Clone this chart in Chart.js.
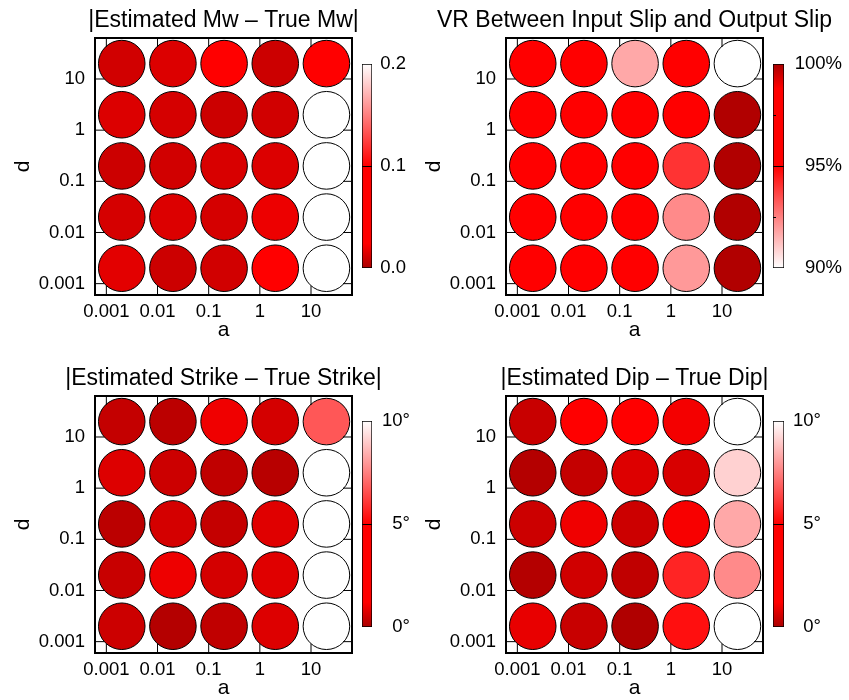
<!DOCTYPE html>
<html>
<head>
<meta charset="utf-8">
<title>Inversion error maps</title>
<script src="https://cdn.jsdelivr.net/npm/chart.js@4.4.1/dist/chart.umd.min.js"></script>
<style>
  html, body { margin: 0; padding: 0; background: #fff; overflow: hidden; }
  body { position: relative; width: 849px; height: 700px; }
  canvas { position: absolute; }
</style>
</head>
<body>
<canvas id="mw" width="447" height="345" style="left:0px;top:0px"></canvas>
<canvas id="vr" width="447" height="345" style="left:411px;top:0px"></canvas>
<canvas id="strike" width="447" height="345" style="left:0px;top:358px"></canvas>
<canvas id="dip" width="447" height="345" style="left:411px;top:358px"></canvas>
<canvas id="mwBar" width="54" height="235" style="left:352px;top:50px"></canvas>
<canvas id="vrBar" width="78" height="235" style="left:764px;top:50px"></canvas>
<canvas id="strikeBar" width="58" height="235" style="left:352px;top:408px"></canvas>
<canvas id="dipBar" width="57" height="235" style="left:764px;top:408px"></canvas>

<script>
// grid positions (cell centres) for the smoothing parameters a and d
const aValues = [0.002, 0.02, 0.2, 2, 20];
const dValues = [0.002, 0.02, 0.2, 2, 20];
const axisTicks = [0.001, 0.01, 0.1, 1, 10];

// rows go with dValues (smallest d first), columns with aValues
const mwError = [
  [0.016, 0.0096, 0.011, 0.04, 0.24],
  [0.012, 0.014, 0.012, 0.019, 0.25],
  [0.0096, 0.011, 0.013, 0.014, 0.23],
  [0.014, 0.012, 0.0096, 0.011, 0.26],
  [0.011, 0.014, 0.035, 0.0096, 0.025]
];
const slipVR = [
  [97, 97, 97, 92, 99.9],
  [97, 97, 97, 92.3, 99.9],
  [97, 97, 97, 94, 99.9],
  [97.2, 97, 97, 97, 99.9],
  [97, 97, 91.7, 97, 89.5]
];
const strikeError = [
  [0.48, 0.14, 0.31, 0.72, 10.5],
  [0.42, 0.96, 0.59, 0.76, 10.8],
  [0.24, 0.59, 0.37, 0.76, 11.2],
  [0.72, 0.48, 0.31, 0.20, 10.6],
  [0.37, 0.24, 0.99, 0.59, 6.7]
];
const dipError = [
  [0.88, 0.42, 0.08, 5.3, 10.4],
  [0.14, 0.54, 0.31, 5.7, 7.7],
  [0.48, 0.99, 0.48, 1.10, 8.3],
  [0.14, 0.37, 0.72, 0.65, 9.1],
  [0.42, 1.5, 1.5, 1.05, 10.9]
];

const mwBarTicks = [0, 0.1, 0.2];
const vrBarTicks = [90, 95, 100];
const vrBarMinor = [92.5, 97.5];
const degBarTicks = [0, 5, 10];

// dark red -> red -> white
const cmapKnots = [0, 0.12, 0.5, 1];
const cmapColors = [[170, 0, 0], [255, 0, 0], [255, 0, 0], [255, 255, 255]];

function cmap(t) {
  t = Math.min(1, Math.max(0, t));
  for (let i = 1; i < cmapKnots.length; i++) {
    if (t <= cmapKnots[i]) {
      const f = (t - cmapKnots[i - 1]) / (cmapKnots[i] - cmapKnots[i - 1]);
      const a = cmapColors[i - 1], b = cmapColors[i];
      const c = a.map((v, k) => Math.round(v + (b[k] - v) * f));
      return `rgb(${c[0]},${c[1]},${c[2]})`;
    }
  }
  return 'rgb(255,255,255)';
}

function colorFor(v, min, max, reversed) {
  const t = (v - min) / (max - min);
  return cmap(reversed ? 1 - t : t);
}

Chart.defaults.font.family = "'Liberation Sans', Arial, Helvetica, sans-serif";
Chart.defaults.color = '#000';
Chart.defaults.animation = false;
Chart.defaults.events = [];

// thick box plus inward ticks on all four sides
const framePlugin = {
  id: 'frame',
  afterDraw(chart) {
    const { ctx, chartArea: a, scales: { x, y } } = chart;
    const L = 9;
    ctx.save();
    ctx.strokeStyle = '#000';
    ctx.lineWidth = 1;
    ctx.beginPath();
    x.ticks.forEach(t => {
      const px = x.getPixelForValue(t.value);
      ctx.moveTo(px, a.bottom); ctx.lineTo(px, a.bottom - L);
      ctx.moveTo(px, a.top); ctx.lineTo(px, a.top + L);
    });
    y.ticks.forEach(t => {
      const py = y.getPixelForValue(t.value);
      ctx.moveTo(a.left, py); ctx.lineTo(a.left + L, py);
      ctx.moveTo(a.right, py); ctx.lineTo(a.right - L, py);
    });
    ctx.stroke();
    ctx.lineWidth = 2;
    ctx.strokeRect(a.left, a.top, a.right - a.left, a.bottom - a.top);
    ctx.restore();
  }
};

// tick marks drawn over the colour bar
const barTicksPlugin = {
  id: 'barTicks',
  afterDatasetsDraw(chart, args, opts) {
    const { ctx, chartArea: a, scales: { y } } = chart;
    ctx.save();
    ctx.strokeStyle = '#000';
    ctx.lineWidth = 1;
    ctx.beginPath();
    (opts.major || []).forEach(v => {
      const py = Math.round(y.getPixelForValue(v)) + 0.5;
      ctx.moveTo(a.left, py); ctx.lineTo(a.right, py);
    });
    (opts.minor || []).forEach(v => {
      const py = Math.round(y.getPixelForValue(v)) + 0.5;
      ctx.moveTo(a.left, py); ctx.lineTo(a.left + 3, py);
    });
    ctx.stroke();
    ctx.restore();
  }
};

const logMin = 2 * Math.pow(10, -3.5);
const logMax = 2 * Math.pow(10, 1.5);

function logAxis(title, isX) {
  return {
    type: 'logarithmic',
    min: logMin,
    max: logMax,
    afterBuildTicks: s => { s.ticks = axisTicks.map(v => ({ value: v })); },
    afterFit: s => { if (isX) s.height = 50; else s.width = 95; },
    ticks: { autoSkip: false, maxRotation: 0, padding: isX ? 6 : 10, font: { size: 18.5 }, callback: v => String(v) },
    grid: { display: false, drawTicks: false },
    border: { display: false },
    title: {
      display: true, text: title, font: { size: 21 },
      padding: isX ? { top: 0, bottom: 2 } : { top: 11, bottom: 0 }
    }
  };
}

function cellRadius(chart) {
  const x = chart.scales.x;
  return Math.abs(x.getPixelForValue(aValues[1]) - x.getPixelForValue(aValues[0])) * 0.455;
}

function makePanel(id, title, grid, min, max, reversed) {
  const points = [];
  const colors = [];
  dValues.forEach((d, i) => {
    aValues.forEach((a, j) => {
      points.push({ x: a, y: d });
      colors.push(colorFor(grid[i][j], min, max, reversed));
    });
  });
  new Chart(document.getElementById(id), {
    type: 'scatter',
    data: {
      datasets: [{
        data: points,
        backgroundColor: colors,
        borderColor: '#000',
        borderWidth: 1,
        pointRadius: ctx => cellRadius(ctx.chart)
      }]
    },
    options: {
      responsive: false,
      layout: { padding: 0 },
      plugins: {
        legend: { display: false },
        tooltip: { enabled: false },
        title: {
          display: true, text: title, color: '#000',
          font: { size: 23, weight: 'normal' },
          padding: { top: 7.2, bottom: 3.2 }
        }
      },
      scales: {
        x: logAxis('a', true),
        y: logAxis('d', false),
        // empty axis on the right balances the left one so the title centres over the box
        yPad: {
          position: 'right', display: true,
          ticks: { display: false }, grid: { display: false, drawTicks: false }, border: { display: false },
          afterFit: s => { s.width = 95; }
        }
      }
    },
    plugins: [framePlugin]
  });
}

function makeColorbar(id, min, max, reversed, ticks, fmt, opts) {
  new Chart(document.getElementById(id), {
    type: 'bar',
    data: {
      labels: [''],
      datasets: [{
        data: [[min, max]],
        backgroundColor: ctx => {
          const area = ctx.chart.chartArea;
          if (!area) return '#f00';
          const g = ctx.chart.ctx.createLinearGradient(0, area.bottom, 0, area.top);
          cmapKnots.forEach(p => g.addColorStop(reversed ? 1 - p : p, cmap(p)));
          return g;
        },
        borderColor: '#000',
        borderWidth: 1,
        borderSkipped: false,
        barPercentage: 1,
        categoryPercentage: 1
      }]
    },
    options: {
      responsive: false,
      layout: { padding: { left: opts.left, right: 0, top: opts.top, bottom: opts.bottom } },
      plugins: {
        legend: { display: false },
        tooltip: { enabled: false },
        barTicks: { major: opts.major, minor: opts.minor }
      },
      scales: {
        x: { display: false },
        y: {
          position: 'right', min, max,
          afterBuildTicks: s => { s.ticks = ticks.map(v => ({ value: v })); },
          afterFit: s => { s.width = opts.axisWidth; },
          ticks: { crossAlign: 'far', padding: 0, font: { size: 18.5 }, callback: fmt },
          grid: { display: false, drawTicks: false },
          border: { display: false }
        }
      }
    },
    plugins: [barTicksPlugin]
  });
}

makePanel('mw', '|Estimated Mw \u2013 True Mw|', mwError, 0, 0.2, false);
makePanel('vr', 'VR Between Input Slip and Output Slip', slipVR, 90, 100, true);
makePanel('strike', '|Estimated Strike \u2013 True Strike|', strikeError, 0, 10, false);
makePanel('dip', '|Estimated Dip \u2013 True Dip|', dipError, 0, 10, false);

// labels are right-aligned to the canvas edge
makeColorbar('mwBar', 0, 0.2, false, mwBarTicks, v => v.toFixed(1),
  { left: 10, top: 14, bottom: 17, axisWidth: 34, major: [0.1], minor: [] });
makeColorbar('vrBar', 90, 100, true, vrBarTicks, v => v + '%',
  { left: 9, top: 14, bottom: 17, axisWidth: 58, major: [95], minor: vrBarMinor });
makeColorbar('strikeBar', 0, 10, false, degBarTicks, v => v + '\u00b0',
  { left: 10, top: 13, bottom: 16, axisWidth: 38, major: [5], minor: [] });
makeColorbar('dipBar', 0, 10, false, degBarTicks, v => v + '\u00b0',
  { left: 9, top: 13, bottom: 16, axisWidth: 37, major: [5], minor: [] });
</script>
</body>
</html>
